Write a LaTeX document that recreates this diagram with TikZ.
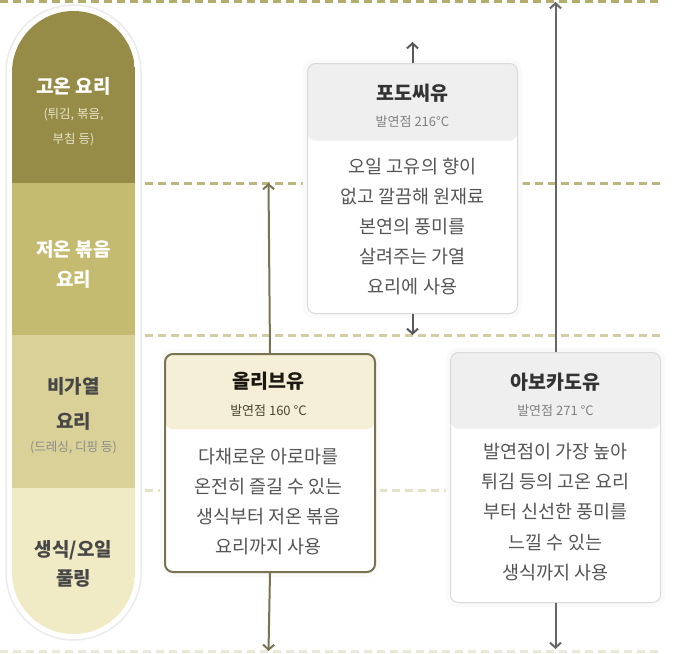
\documentclass[tikz,border=0pt]{standalone}
\usepackage{fontspec}
\setmainfont{Noto Sans CJK KR}
\usepackage{tikz}
\usetikzlibrary{arrows.meta, positioning}
\definecolor{bandA}{HTML}{968C48}
\definecolor{bandB}{HTML}{C4BB70}
\definecolor{bandC}{HTML}{D9D197}
\definecolor{bandD}{HTML}{F0EAC5}
\definecolor{dashA}{HTML}{B4AC6C}
\definecolor{dashB}{HTML}{BDB57E}
\definecolor{dashC}{HTML}{D3CDA3}
\definecolor{dashD}{HTML}{E5E1C9}
\definecolor{dashE}{HTML}{EBE8D8}
\definecolor{oliveline}{HTML}{7A7352}
\definecolor{olivehead}{HTML}{F4EFD6}
\definecolor{grayhead}{HTML}{EFEFEF}
\definecolor{grayline}{HTML}{DADADA}
\definecolor{bodytext}{HTML}{555555}
\definecolor{smalltext}{HTML}{E6E2C6}

\begin{document}
\begin{tikzpicture}[x=1pt, y=-1pt,
	dashline/.style={draw=#1, line width=3pt, dash pattern=on 8pt off 5pt},
	oilbox/.style={draw=#1, fill=white, rounded corners=8pt, anchor=north west, inner sep=0pt, minimum width=210pt, line width=1pt, preaction={draw=black!2, line width=10pt}},
	head/.style 2 args={path picture={\fill[#1] (path picture bounding box.north west) rectangle ([yshift=-#2]path picture bounding box.north east);}},
	oilarrow/.style={draw=#1, line width=2pt, -{Straight Barb[length=5pt,width=11pt]}},
	oilname/.style={font=\fontsize{19.5}{22}\selectfont\bfseries, text=#1, inner sep=0pt},
	smoke/.style={font=\fontsize{13}{15}\selectfont, text=#1, inner sep=0pt},
	bodytxt/.style={font=\fontsize{18.5}{30.2}\selectfont, text=bodytext, align=center, inner sep=0pt},
	bandtxt/.style={font=\fontsize{19}{#1}\selectfont\bfseries, align=center, inner sep=0pt},
	bandsub/.style={font=\fontsize{12.5}{24.5}\selectfont, align=center, inner sep=0pt}]
	\useasboundingbox (0,0) rectangle (690,653);

	\draw[dashline=dashA] (0,1.5) -- (662,1.5);
	\draw[dashline=dashB] (145,183) -- (662,183);
	\draw[dashline=dashC] (145,335) -- (662,335);
	\draw[dashline=dashD] (145,490) -- (662,490);
	\draw[dashline=dashE] (0,651) -- (662,651);

	\draw[black!8, fill=white, line width=1.5pt, rounded corners=67.5pt] (6,5) rectangle (141,640);
	\begin{scope}
		\clip[rounded corners=61.5pt] (12,11) rectangle (135,634);
		\fill[bandA] (12,11) rectangle (135,183);
		\fill[bandB] (12,183) rectangle (135,335);
		\fill[bandC] (12,335) rectangle (135,488);
		\fill[bandD] (12,488) rectangle (135,634);
	\end{scope}

	\node[bandtxt=22, text=white] (hotT) at (73.5,86) {고온 요리};
	\node[bandsub, text=smalltext] (hotS) at (73.5,127) {(튀김, 볶음,\\부침 등)};
	\node[bandtxt=30, text=white] (lowT) at (73.5,264) {저온 볶음\\요리};
	\node[bandtxt=34.5, text=black!72] (rawT) at (73.5,404) {비가열\\요리};
	\node[bandsub, text=black!45] (rawS) at (73.5,448) {(드레싱, 디핑 등)};
	\node[bandtxt=29, text=black!72] (pourT) at (73.5,564) {생식/오일\\풀링};

	\node[oilbox=grayline, head={grayhead}{77pt}, minimum height=250pt] (grape) at (307,63) {};
	\node[oilbox=oliveline, line width=2pt, head={olivehead}{75pt}, minimum height=218pt] (olive) at (164,353) {};
	\node[oilbox=grayline, head={grayhead}{76pt}, minimum height=250pt] (avocado) at (450,352) {};

	\node[oilname=black!80] (grapeT) at (412.5,93) {포도씨유};
	\node[smoke=black!50] (grapeP) at (412.5,122) {발연점 216°C};
	\node[bodytxt] (grapeB) at (412.5,226.5) {오일 고유의 향이\\없고 깔끔해 원재료\\본연의 풍미를\\살려주는 가열\\요리에 사용};

	\node[oilname=black!78!oliveline] (oliveT) at (268.5,381) {올리브유};
	\node[smoke=black!40!oliveline] (oliveP) at (268.5,411) {발연점 160 °C};
	\node[bodytxt] (oliveB) at (268.5,501.5) {다채로운 아로마를\\온전히 즐길 수 있는\\생식부터 저온 볶음\\요리까지 사용};

	\node[oilname=black!80] (avocadoT) at (555.5,382) {아보카도유};
	\node[smoke=black!50] (avocadoP) at (555.5,411) {발연점 271 °C};
	\node[bodytxt] (avocadoB) at (555.5,512) {발연점이 가장 높아\\튀김 등의 고온 요리\\부터 신선한 풍미를\\느낄 수 있는\\생식까지 사용};

	\coordinate (oliveUp) at (268.5,183); \coordinate (oliveDn) at (268.5,651);
	\coordinate (grapeUp) at (412.5,42); \coordinate (grapeDn) at (412.5,335);
	\coordinate (avocadoUp) at (555.5,2); \coordinate (avocadoDn) at (555.5,649);
	\draw[oilarrow=oliveline] (olive.north) -- (oliveUp); \draw[oilarrow=oliveline] (olive.south) -- (oliveDn);
	\draw[oilarrow=black!65] (grape.north) -- (grapeUp); \draw[oilarrow=black!65] (grape.south) -- (grapeDn);
	\draw[oilarrow=black!60] (avocado.north) -- (avocadoUp); \draw[oilarrow=black!60] (avocado.south) -- (avocadoDn);
\end{tikzpicture}
\end{document}
